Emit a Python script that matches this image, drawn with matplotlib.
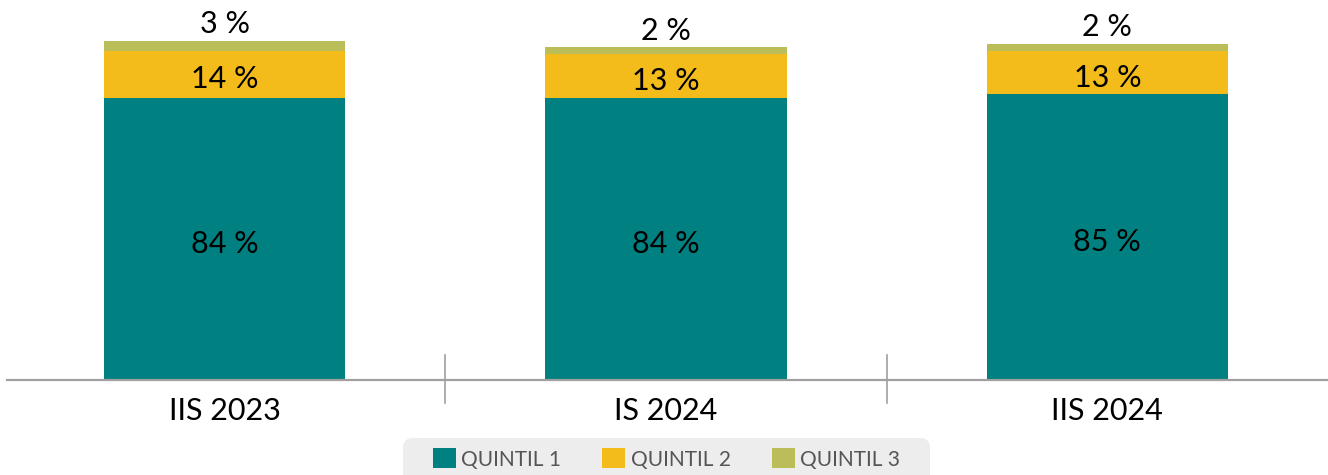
import matplotlib.pyplot as plt
from matplotlib.patches import FancyBboxPatch
import numpy as np

plt.rcParams['font.family'] = ['Lato', 'DejaVu Sans']

periods = ["IIS 2023", "IS 2024", "IIS 2024"]
series = ["QUINTIL 1", "QUINTIL 2", "QUINTIL 3"]
quintil_1 = [84, 84, 85]
quintil_2 = [14, 13, 13]
quintil_3 = [3, 2, 2]

colors = ["#008080", "#F3BC1A", "#BBBE58"]

fig = plt.figure(figsize=(13.28, 4.75), dpi=100)
ax = fig.add_axes([7 / 1328, 95 / 475, 1321 / 1328, 380 / 475])

x = np.arange(len(periods))
width = 0.547
bottom = np.zeros(len(periods))
for name, vals, col in zip(series, [quintil_1, quintil_2, quintil_3], colors):
    vals = np.array(vals, dtype=float)
    ax.bar(x, vals, width, bottom=bottom, color=col, label=name, zorder=2)
    bottom += vals

# labels
for i in range(len(periods)):
    ax.text(x[i], quintil_1[i] / 2 - 1.5, f"{quintil_1[i]} %", ha="center", va="center",
            fontsize=22, color="black")
    ax.text(x[i], quintil_1[i] + quintil_2[i] / 2 - 1.5, f"{quintil_2[i]} %", ha="center",
            va="center", fontsize=22, color="black")
    ax.text(x[i], bottom[i] + 0.8, f"{quintil_3[i]} %", ha="center", va="bottom",
            fontsize=22, color="black")

# separators between categories
for s in [0.5, 1.5]:
    ax.plot([s, s], [-6.8, 7.4], color="#a0a0a0", lw=1.2, clip_on=False, zorder=3)

ax.set_xlim(-0.493, 2.5)
ax.set_ylim(0, 113.1)
ax.set_yticks([])
ax.set_xticks(x)
ax.set_xticklabels(periods, fontsize=22)
ax.tick_params(axis="x", length=0, pad=12)
for sp in ["top", "left", "right"]:
    ax.spines[sp].set_visible(False)
ax.spines["bottom"].set_color("#a0a0a0")
ax.spines["bottom"].set_linewidth(1.6)
ax.spines["bottom"].set_zorder(3)

# legend background box (pixels, runs past the bottom edge)
box = FancyBboxPatch((403, -20), 527, 57, transform=None,
                     boxstyle="round,pad=0,rounding_size=10", facecolor="#ededed",
                     edgecolor="none", zorder=0)
fig.patches.append(box)

leg = fig.legend(loc="center", bbox_to_anchor=(666.5 / 1328, 1 - 459 / 475), ncol=3,
                 fontsize=15, frameon=False, handlelength=1.1, handleheight=1.1,
                 handletextpad=0.25, columnspacing=2.0, borderpad=0.2)
for t in leg.get_texts():
    t.set_color("#555555")

fig.savefig("out.png", dpi=100)
